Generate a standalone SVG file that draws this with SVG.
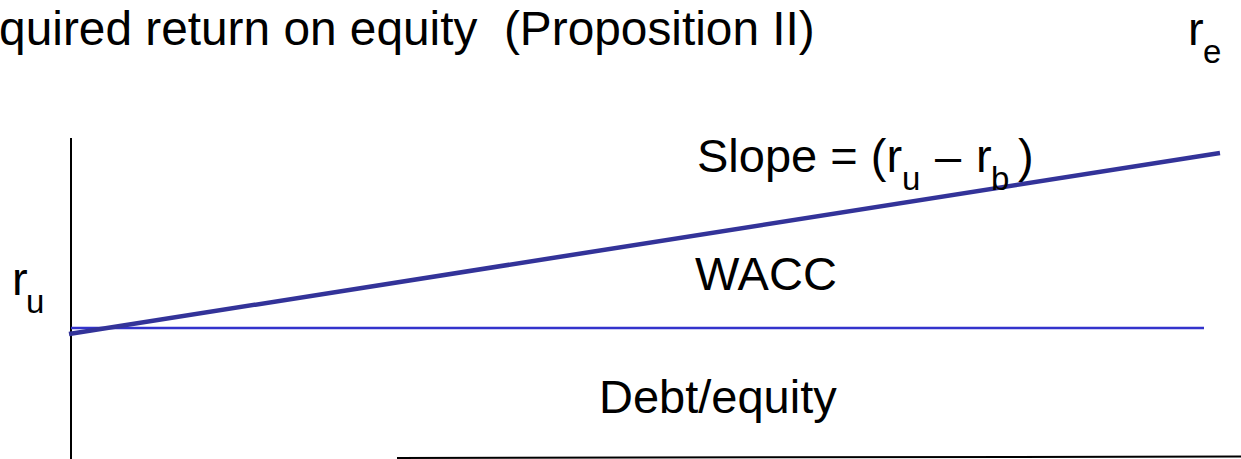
<svg xmlns="http://www.w3.org/2000/svg" width="1241" height="459" viewBox="0 0 1241 459">
<style>
text{font-family:"Liberation Sans",Arial,sans-serif;fill:#000;font-size:47px}
.title{font-size:47.8px}
.sub{font-size:33px}
.axis{stroke:#000;stroke-width:2;fill:none}
.slope{stroke:#333399;stroke-width:4.5;fill:none}
.wacc{stroke:#3333CC;stroke-width:2.5;fill:none}
</style>
<rect width="1241" height="459" fill="#fff"/>
<g id="connectors">
<line class="axis" x1="71" y1="138" x2="71" y2="459"/>
<line class="axis" x1="397" y1="458" x2="1241" y2="456.5"/>
<line class="wacc" x1="71" y1="328" x2="1204" y2="328"/>
<line class="slope" x1="69" y1="334" x2="1220" y2="153"/>
</g>
<g id="title"><text class="title" x="-62" y="45" xml:space="preserve">Required return on equity  (Proposition II)</text></g>
<g id="re-label"><text x="1188" y="45">r<tspan class="sub" x="1203" y="63">e</tspan></text></g>
<g id="ru-label"><text x="12" y="295">r<tspan class="sub" x="26" y="313">u</tspan></text></g>
<g id="slope-label"><text x="697" y="172">Slope = (r<tspan class="sub" x="902" y="190">u</tspan><tspan x="935" y="172">–</tspan><tspan x="976" y="172">r</tspan><tspan class="sub" x="991" y="190">b</tspan><tspan x="1018" y="172">)</tspan></text></g>
<g id="wacc-label"><text x="695" y="290">WACC</text></g>
<g id="de-label"><text x="599" y="413">Debt/equity</text></g>
</svg>
